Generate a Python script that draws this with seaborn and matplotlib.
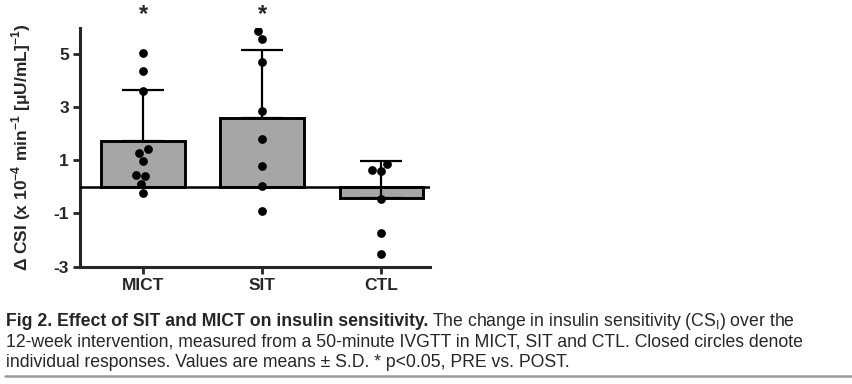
import pandas as pd
import seaborn as sns
import matplotlib.pyplot as plt

# individual responses (change in CSI, x10^-4 min^-1 [uU/mL]^-1)
mict = [5.03, 4.34, 3.60, 1.41, 1.28, 0.98, 0.44, 0.40, 0.10, -0.22]
sit = [5.84, 5.54, 4.69, 2.84, 1.78, 0.78, 0.04, -0.91]
ctl = [0.84, 0.63, 0.60, -0.44, -1.73, -2.52]
groups = ['MICT', 'SIT', 'CTL']
significant = ['MICT', 'SIT']
yticks = [5, 3, 1, -1, -3]

df = pd.DataFrame({'group': ['MICT'] * len(mict) + ['SIT'] * len(sit) + ['CTL'] * len(ctl),
                   'csi': mict + sit + ctl})
stats = df.groupby('group', sort=False)['csi'].agg(['mean', 'std']).loc[groups]

sns.set_style('ticks')
plt.rcParams['font.family'] = ['Liberation Sans', 'DejaVu Sans']
plt.rcParams['mathtext.fontset'] = 'custom'
plt.rcParams['mathtext.rm'] = 'Liberation Sans'
plt.rcParams['mathtext.bf'] = 'Liberation Sans:bold'

fig = plt.figure(figsize=(8.53, 3.84), dpi=100)
ax = fig.add_axes([80 / 853, 1 - 266.7 / 384, 350 / 853, (266.7 - 28.3) / 384])

sns.barplot(ax=ax, data=df, x='group', y='csi', order=groups, errorbar=None,
            color='#a6a6a6', saturation=1, edgecolor='black', linewidth=2.1, width=0.7, zorder=2)
# upward S.D. only
ax.errorbar(range(len(groups)), stats['mean'], yerr=[[0] * len(groups), stats['std']],
            fmt='none', ecolor='black', elinewidth=1.6, capsize=15, capthick=1.6, zorder=3)
sns.swarmplot(ax=ax, data=df, x='group', y='csi', order=groups, color='black', size=6.3, zorder=4)
ax.axhline(0, color='black', lw=1.8, zorder=3)

for g in significant:
    ax.text(groups.index(g), 6.45, '*', ha='center', va='center', fontsize=17,
            fontweight='bold', clip_on=False)

ax.set_xlim(-0.53, 2.41)
ax.set_ylim(-3, 5.95)
ax.set_yticks(yticks)
ax.set_yticklabels([str(t) for t in yticks])
ax.set_xlabel('')
ax.set_ylabel(r'Δ CSI (x 10$^{\mathbf{-4}}$ min$^{\mathbf{-1}}$ [μU/mL]$^{\mathbf{-1}}$)',
              fontsize=12.5, fontweight='bold', labelpad=15)
for lab in ax.get_xticklabels() + ax.get_yticklabels():
    lab.set_fontweight('bold')
    lab.set_fontsize(12.5)
ax.tick_params(width=2, length=5, pad=3)
for s in ['left', 'bottom']:
    ax.spines[s].set_linewidth(2.2)
sns.despine(ax=ax)

# caption
fs = 12.7
rend = fig.canvas.get_renderer()
t = fig.text(6 / 853, 1 - 326 / 384, 'Fig 2. Effect of SIT and MICT on insulin sensitivity.',
             fontsize=fs, fontweight='bold', va='baseline')
bb = t.get_window_extent(rend)
fig.text((bb.x1 + 4) / 853, 1 - 326 / 384,
         r'The change in insulin sensitivity (CS$_{\mathrm{I}}$) over the',
         fontsize=fs, va='baseline')
fig.text(6 / 853, 1 - 346.7 / 384,
         '12-week intervention, measured from a 50-minute IVGTT in MICT, SIT and CTL. Closed circles denote',
         fontsize=fs, va='baseline')
fig.text(6 / 853, 1 - 366.7 / 384,
         'individual responses. Values are means ± S.D. * p<0.05, PRE vs. POST.',
         fontsize=fs, va='baseline')
fig.add_artist(plt.Line2D([5 / 853, 1], [1 - 376 / 384] * 2, color='#999999', lw=1.8))

fig.savefig('out.png', dpi=100)
